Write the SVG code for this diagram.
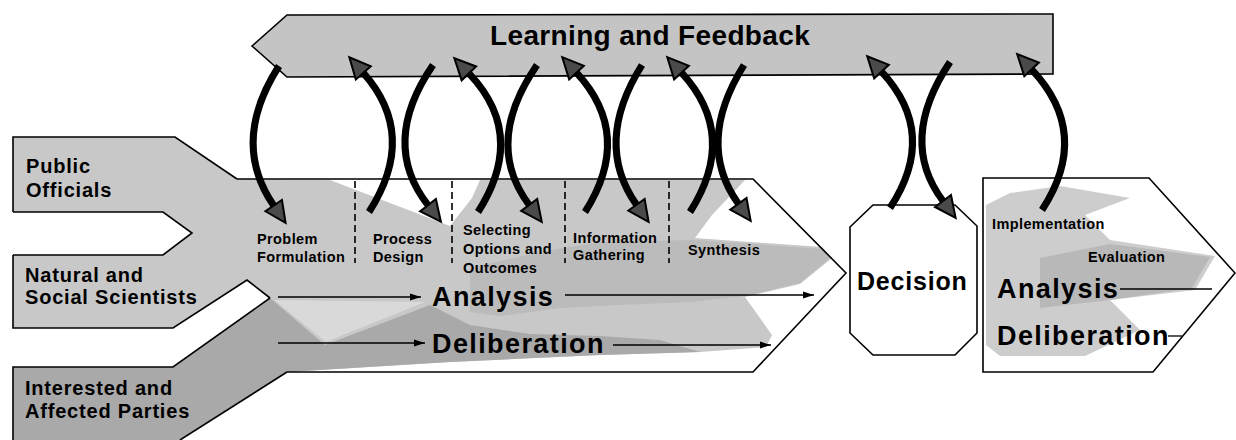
<svg xmlns="http://www.w3.org/2000/svg" width="1236" height="440" viewBox="0 0 1236 440">
<defs>
<style>
.t{font-family:"Liberation Sans",Arial,Helvetica,sans-serif;font-weight:bold;fill:#000}
.ol{fill:none;stroke:#000;stroke-width:1.6;stroke-linejoin:miter}
.big{stroke:#000;stroke-width:7;fill:none;stroke-linecap:butt;marker-end:url(#bigHead)}
.thin{stroke:#000;stroke-width:1.3;fill:none;marker-end:url(#smallHead)}
.line{stroke:#000;stroke-width:1.3;fill:none}
.dash{stroke:#000;stroke-width:1.6;stroke-dasharray:7 4;fill:none}
.s{font-size:14.5px;letter-spacing:0.4px}
.L{font-size:27px;letter-spacing:1.4px}
.m{font-size:20px;letter-spacing:0.8px}
</style>
<marker id="bigHead" markerUnits="userSpaceOnUse" markerWidth="28" markerHeight="26" viewBox="-3 -13 28 26" refX="0" refY="0" orient="auto" overflow="visible">
<path d="M0,-10 L21,0 L0,10 z" fill="#4a4a4a" stroke="#000" stroke-width="2" stroke-linejoin="miter"/>
</marker>
<marker id="smallHead" markerUnits="userSpaceOnUse" markerWidth="11" markerHeight="8" viewBox="0 -4 11 8" refX="11" refY="0" orient="auto">
<path d="M0,-3.5 L11,0 L0,3.5 z" fill="#000"/>
</marker>
</defs>
<rect width="1236" height="440" fill="#fff"/>

<g id="learning-feedback">
<polygon points="252,46 287,15 1053,14 1053,74 287,77" fill="#c4c4c4" stroke="#000" stroke-width="1.6"/>
<text class="t" x="490" y="45" font-size="28" letter-spacing="0.35">Learning and Feedback</text>
</g>

<g id="shading">
<polygon points="13,137 175,137 237,179 330,180 450,226 472,198 480,180 745,180 712,215 695,238 822,247 832,258 800,284 745,297 772,335 766,347 700,352 600,355 450,362 287,372 270,298 247,280 173,328 13,328 13,255 163,255 192,233 163,212 13,212" fill="#c8c8c8"/>
<polygon points="470,268 540,252 600,242 695,240 780,246 822,249 830,258 800,283 745,296 690,302 620,305 560,308 500,316 470,312" fill="#bbbbbb"/>
<polygon points="13,367 173,367 270,298 325,345 430,305 470,325 530,334 600,336 660,340 700,352 600,355 450,362 287,372 180,440 13,440" fill="#a9a9a9"/>
<polygon points="274,300 425,302 326,342" fill="#d9d9d9"/>
<polygon points="986,205 1010,193 1060,186 1130,198 1085,215 1110,240 1215,256 1195,290 1110,300 1140,330 1085,356 1000,356 986,345" fill="#cdcdcd"/>
<polygon points="1040,258 1110,244 1210,257 1192,288 1110,300 1040,308" fill="#b8b8b8"/>
</g>

<g id="public-officials">
<path class="ol" d="M13,212 L13,137 L175,137 L237,179"/>
<path class="ol" d="M13,212 L163,212 L192,233 L163,255 L13,255"/>
<text class="t m" x="26" y="173">Public</text>
<text class="t m" x="26" y="197">Officials</text>
</g>

<g id="natural-social-scientists">
<path class="ol" d="M13,255 L13,328 L173,328 L247,280 L270,298"/>
<text class="t m" x="25" y="282">Natural and</text>
<text class="t m" x="25" y="304">Social Scientists</text>
</g>

<g id="interested-affected-parties">
<path class="ol" d="M270,298 L173,367 L13,367 L13,440"/>
<path class="ol" d="M180,440 L287,372"/>
<text class="t m" x="25" y="395">Interested and</text>
<text class="t m" x="25" y="418">Affected Parties</text>
</g>

<g id="analysis-deliberation-process">
<path class="ol" d="M237,179 L753,179 L846,273 L753,372 L287,372"/>
<line class="dash" x1="355" y1="181" x2="355" y2="263"/>
<line class="dash" x1="452" y1="181" x2="452" y2="263"/>
<line class="dash" x1="565" y1="181" x2="565" y2="263"/>
<line class="dash" x1="669" y1="181" x2="669" y2="263"/>
<text class="t s" x="257" y="244">Problem</text>
<text class="t s" x="257" y="262">Formulation</text>
<text class="t s" x="373" y="244">Process</text>
<text class="t s" x="373" y="262">Design</text>
<text class="t s" x="463" y="235">Selecting</text>
<text class="t s" x="463" y="254">Options and</text>
<text class="t s" x="463" y="273">Outcomes</text>
<text class="t s" x="573" y="243">Information</text>
<text class="t s" x="573" y="260">Gathering</text>
<text class="t s" x="688" y="255" letter-spacing="1.2">Synthesis</text>
<text class="t L" x="432" y="306" letter-spacing="1.5">Analysis</text>
<text class="t L" x="432" y="353" letter-spacing="1.3">Deliberation</text>
</g>

<g id="decision">
<polygon points="873,205 955,205 977,226 977,333 955,355 873,355 850,333 850,227" fill="#fff" stroke="#000" stroke-width="1.6"/>
<text class="t" x="857" y="290" font-size="25" letter-spacing="0.8">Decision</text>
</g>

<g id="implementation-evaluation">
<path class="ol" d="M983,178 L1149,178 L1235,273 L1153,372 L983,372 Z"/>
<text class="t s" x="992" y="229">Implementation</text>
<text class="t s" x="1088" y="262">Evaluation</text>
<text class="t L" x="997" y="298">Analysis</text>
<text class="t L" x="997" y="345" letter-spacing="1.3">Deliberation</text>
</g>

<g id="connectors">
<path class="big" d="M279,66 Q230,142 273.7,205.6"/>
<path class="big" d="M369,212 Q418.5,135 363.3,72.9"/>
<path class="big" d="M433,65 Q379.5,143 428,205.2"/>
<path class="big" d="M478,212 Q527.5,134.5 468.9,73.4"/>
<path class="big" d="M537,65 Q483,143 529.2,205"/>
<path class="big" d="M585,212 Q634,135 576.5,72.6"/>
<path class="big" d="M642,65 Q593,143 636.5,204.8"/>
<path class="big" d="M690,212 Q739,135 681.5,72.6"/>
<path class="big" d="M744,65 Q695,143.5 738.4,203.8"/>
<path class="big" d="M890,208 Q939,133.5 881.5,71.6"/>
<path class="big" d="M950,62 Q897.5,140.5 943,201"/>
<path class="big" d="M1042,210 Q1092,133.5 1031.6,69.4"/>
<line class="thin" x1="278" y1="297" x2="421" y2="297"/>
<line class="thin" x1="565" y1="295" x2="814" y2="295"/>
<line class="thin" x1="278" y1="343" x2="425" y2="343"/>
<line class="thin" x1="613" y1="345" x2="771" y2="345"/>
<line class="line" x1="1120" y1="289" x2="1212" y2="289"/>
<line class="line" x1="1168" y1="336" x2="1182" y2="336"/>
</g>
</svg>
